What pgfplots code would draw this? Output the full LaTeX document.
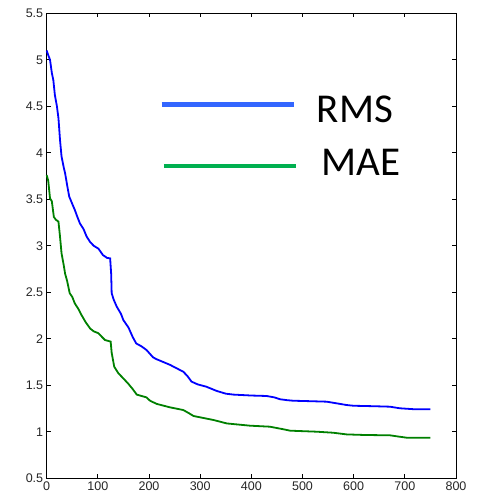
\documentclass[border=0pt]{standalone}
\usepackage{pgfplots}
\pgfplotsset{compat=1.18}
\usepackage{fontspec}
\setmainfont{Liberation Sans}
\newfontfamily\legfont{Carlito}

\definecolor{rmsblue}{RGB}{0,0,255}
\definecolor{maegreen}{RGB}{0,128,0}
\definecolor{legblue}{RGB}{51,102,255}
\definecolor{leggreen}{RGB}{0,176,80}

\begin{document}
\begin{tikzpicture}
\begin{axis}[
  scale only axis,
  width=409.3pt, height=465pt,
  xmin=0, xmax=800, ymin=0.5, ymax=5.5,
  xtick={0,100,...,800},
  ytick={0.5,1,...,5.5},
  tick align=inside,
  major tick length=4pt,
  axis line style={line width=0.8pt},
  tick style={line width=0.8pt, black},
  every tick label/.append style={font=\fontsize{12.5}{14}\selectfont, text=black!85},
  /pgf/number format/assume math mode=true,
  yticklabel style={/pgf/number format/fixed, /pgf/number format/precision=1},
  clip=false,
]
% RMS error versus iteration
\addplot[rmsblue, line width=1.8pt] coordinates {
(0,5.10) (3,5.05) (6.5,5.0) (10,4.86) (13,4.78) (16,4.62) (20,4.50) (23,4.37)
(26,4.14) (29,3.96) (33,3.85) (36,3.78) (40,3.65) (44,3.53) (50,3.45) (55,3.385)
(60,3.31) (65,3.24) (72,3.18) (78,3.10) (85,3.04) (92,3.00) (101,2.97) (110,2.90)
(118,2.87) (124,2.865) (126,2.70) (127,2.49) (131,2.42) (137,2.345) (145,2.27)
(150,2.20) (160,2.12) (168,2.02) (175,1.95) (185,1.92) (195,1.88) (208,1.80)
(215,1.78) (228,1.75) (241,1.72) (255,1.68) (267,1.646) (275,1.60) (283,1.54)
(295,1.51) (312,1.485) (332,1.44) (350,1.41) (365,1.40) (400,1.39) (430,1.385)
(445,1.37) (456,1.35) (470,1.34) (482,1.334) (510,1.33) (547,1.324) (567,1.306)
(586,1.288) (600,1.28) (640,1.275) (671,1.27) (690,1.253) (720,1.242) (750,1.242)
};
% MAE versus iteration
\addplot[maegreen, line width=1.8pt] coordinates {
(0,3.76) (3,3.70) (6.5,3.51) (10,3.48) (14,3.31) (18,3.28) (23,3.26) (26,3.10)
(29,2.92) (33,2.80) (36,2.70) (40,2.62) (45,2.49) (50,2.45) (55,2.38) (62,2.32)
(68,2.256) (76,2.18) (85,2.11) (92,2.08) (101,2.06) (108,2.02) (114,1.987)
(125,1.97) (127,1.85) (129,1.79) (132,1.70) (140,1.63) (147,1.59) (159,1.52)
(168,1.46) (176,1.40) (195,1.37) (202,1.334) (215,1.30) (241,1.263) (267,1.234)
(278,1.20) (287,1.17) (305,1.15) (326,1.127) (352,1.09) (397,1.066) (436,1.055)
(460,1.03) (476,1.012) (528,1.001) (560,0.99) (586,0.972) (620,0.966)
(671,0.962) (690,0.947) (703,0.937) (750,0.937)
};
% legend
\draw[legblue, line width=4.5pt] (axis cs:224.7,4.521) -- (axis cs:483.3,4.521);
\draw[leggreen, line width=4.5pt] (axis cs:229.2,3.858) -- (axis cs:487.2,3.858);
\node[anchor=base west, inner sep=0pt, font=\legfont\fontsize{41}{48}\selectfont]
  at (axis cs:527.7,4.324) {RMS};
\node[anchor=base west, inner sep=0pt, font=\legfont\fontsize{41}{48}\selectfont]
  at (axis cs:537.4,3.761) {MAE};
\end{axis}
\pgfresetboundingbox
\useasboundingbox (-46.7pt,-20.7pt) rectangle (432.3pt,478.3pt);
\end{tikzpicture}
\end{document}
